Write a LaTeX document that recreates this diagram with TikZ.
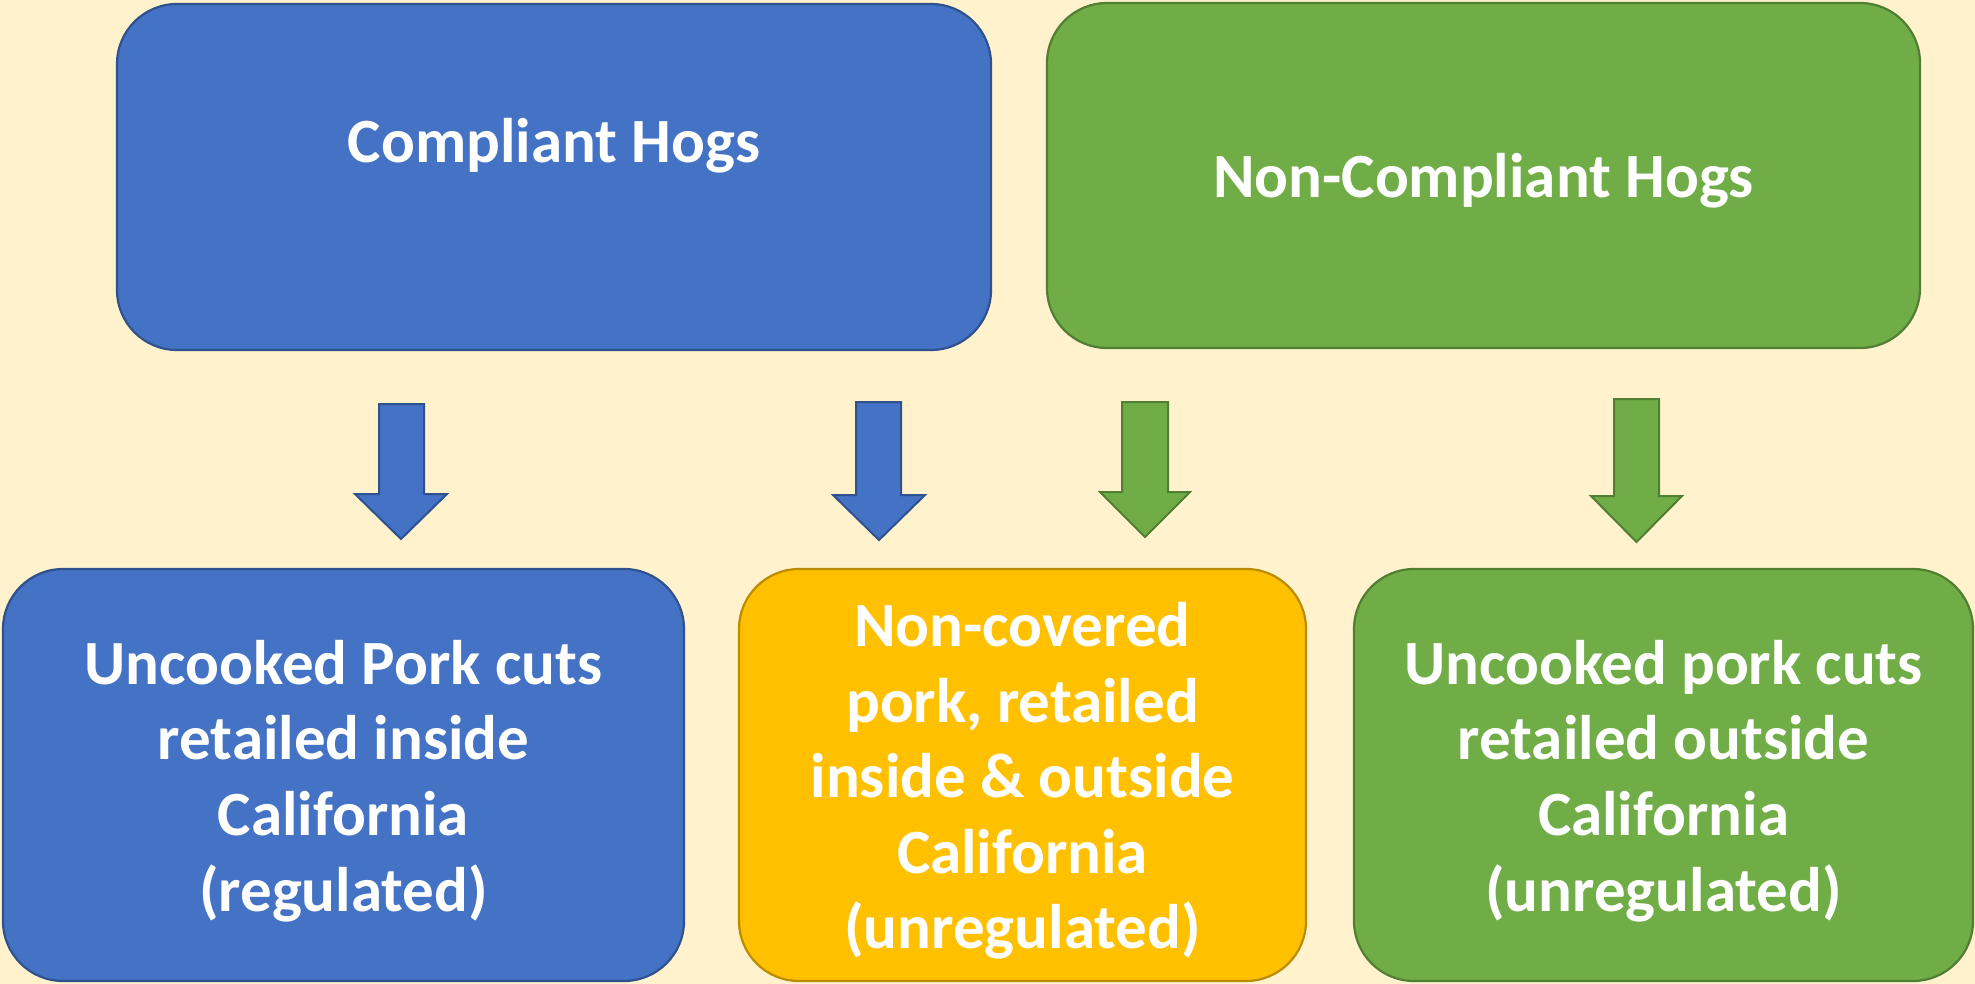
\documentclass[tikz,border=0pt]{standalone}
\usepackage{fontspec}
\setmainfont{Carlito}
\definecolor{bgc}{HTML}{FFF2CC}
\definecolor{bluef}{HTML}{4472C4}
\definecolor{bluel}{HTML}{2F528F}
\definecolor{greenf}{HTML}{70AD47}
\definecolor{greenl}{HTML}{507E32}
\definecolor{yellowf}{HTML}{FFC000}
\definecolor{yellowl}{HTML}{BC8C00}
\tikzset{
  box/.style={rounded corners=60pt, line width=2.2pt, inner sep=0pt},
  bluebox/.style={box, fill=bluef, draw=bluel},
  greenbox/.style={box, fill=greenf, draw=greenl},
  yellowbox/.style={box, fill=yellowf, draw=yellowl},
  label/.style={text=white, align=center, font=\bfseries\fontsize{63}{75.6}\selectfont, inner sep=0pt},
  bluearrow/.style={fill=bluef, draw=bluel, line width=2pt, line join=miter},
  greenarrow/.style={fill=greenf, draw=greenl, line width=2pt, line join=miter}
}
\begin{document}
\begin{tikzpicture}[x=1pt,y=-1pt]
\fill[bgc] (0,0) rectangle (1975,984);
\useasboundingbox (0,0) rectangle (1975,984);
% top boxes
\node[bluebox, minimum width=874pt, minimum height=346pt] (comp) at (554,177) {};
\node[label] (compt) at (554,146) {Compliant Hogs};
\node[greenbox, minimum width=873pt, minimum height=345pt] (noncomp) at (1483.5,175.5) {};
\node[label] (noncompt) at (1483.5,180.5) {Non-Compliant Hogs};
% bottom boxes
\node[bluebox, minimum width=681pt, minimum height=412pt] (reg) at (343.5,775) {};
\node[label] (regt) at (343.5,781) {Uncooked Pork cuts\\retailed inside\\California\\(regulated)};
\node[yellowbox, minimum width=567pt, minimum height=412pt] (noncov) at (1022.5,775) {};
\node[label] (noncovt) at (1022.5,781) {Non-covered\\pork, retailed\\inside \& outside\\California\\(unregulated)};
\node[greenbox, minimum width=619pt, minimum height=412pt] (unreg) at (1663.5,775) {};
\node[label] (unregt) at (1663.5,781) {Uncooked pork cuts\\retailed outside\\California\\(unregulated)};
% block arrows
\draw[bluearrow] (379,404) -- (424,404) -- (424,494) -- (447,494) -- (401,539) -- (355,494) -- (379,494) -- cycle;
\draw[bluearrow] (856,402) -- (901,402) -- (901,495) -- (925,495) -- (879,540) -- (833,495) -- (856,495) -- cycle;
\draw[greenarrow] (1122,402) -- (1168,402) -- (1168,492) -- (1190,492) -- (1145,537) -- (1100,492) -- (1122,492) -- cycle;
\draw[greenarrow] (1614,399) -- (1659,399) -- (1659,496) -- (1682,496) -- (1636.5,542) -- (1591,496) -- (1614,496) -- cycle;
\end{tikzpicture}
\end{document}
